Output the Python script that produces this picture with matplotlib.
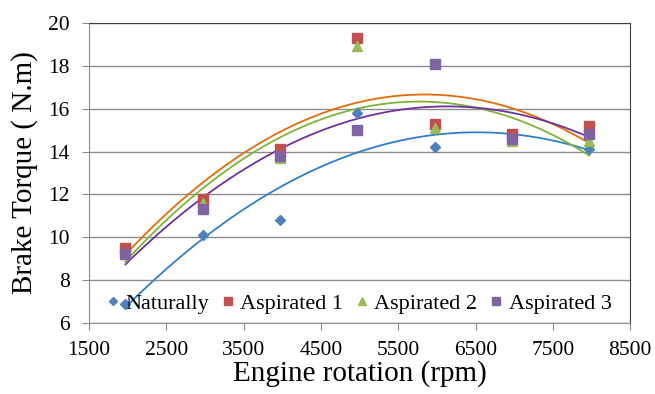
import numpy as np
from matplotlib import pyplot as plt

# Engine speed (rpm) and brake torque (N.m)
rpm = [1970, 2970, 3970, 4970, 5970, 6970, 7970]
naturally = [6.9, 10.1, 10.8, 15.8, 14.2, 14.7, 14.1]
aspirated1 = [9.5, 11.8, 14.1, 19.3, 15.3, 14.8, 15.2]
aspirated2 = [9.2, 11.6, 13.7, 18.9, 15.1, 14.5, 14.5]
aspirated3 = [9.2, 11.3, 13.8, 15.0, 18.1, 14.6, 14.8]

labels = ['Naturally', 'Aspirated 1', 'Aspirated 2', 'Aspirated 3']
markers = ['D', 's', '^', 's']
markerColors = ['#4F81BD', '#C0504D', '#9BBB59', '#8064A2']
trendColors = ['#2E7FC8', '#E36C09', '#7FB33A', '#7030A0']
markerSizes = [5.5, 7, 7, 7]

plt.rcParams['font.family'] = ['Liberation Serif', 'DejaVu Serif']

fig = plt.figure(figsize=(6.55, 3.94), dpi=100)
ax = fig.add_axes([0.136, 0.180, 0.826, 0.762])

series = [naturally, aspirated1, aspirated2, aspirated3]
x = np.array(rpm)
xs = np.linspace(x[0], x[-1], 200)

# Second order polynomial trend line for each series (like Excel)
for ys, col in zip(series, trendColors):
    coeffs = np.polyfit(x, ys, 2)
    ax.plot(xs, np.polyval(coeffs, xs), color=col, lw=1.3, zorder=2)

for ys, lab, m, c, s in zip(series, labels, markers, markerColors, markerSizes):
    ax.plot(x, ys, linestyle='none', marker=m, color=c, markersize=s,
            label=lab, zorder=3)

ax.set_xlim(1500, 8500)
ax.set_ylim(6, 20)
ax.set_xticks(np.arange(1500, 8501, 1000))
ax.set_yticks(np.arange(6, 21, 2))
ax.yaxis.grid(True, color='#8C8C8C', lw=1.0)
ax.set_axisbelow(True)

for side in ['left', 'bottom']:
    ax.spines[side].set_color('#8C8C8C')
for side in ['top', 'right']:
    ax.spines[side].set_color('#404040')
ax.tick_params(axis='both', labelsize=15.5, color='#8C8C8C', length=5)
ax.tick_params(axis='x', pad=8)
ax.tick_params(axis='y', pad=9)

ax.set_xlabel('Engine rotation (rpm)', fontsize=21, labelpad=0)
ax.set_ylabel('Brake Torque ( N.m)', fontsize=21, labelpad=7)

ax.legend(loc='lower center', ncol=4, frameon=False, fontsize=16,
          handlelength=0.5, handletextpad=0.3, columnspacing=0.6,
          markerscale=0.8, borderaxespad=0.0, bbox_to_anchor=(0.5, 0.0))

fig.savefig('out.png', dpi=100)
